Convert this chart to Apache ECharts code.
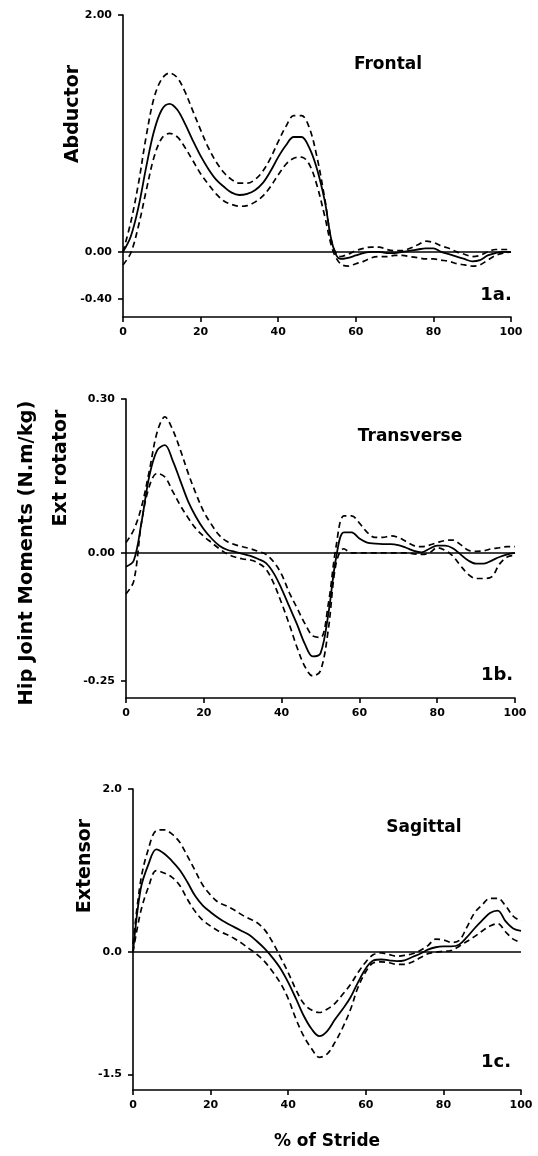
<!DOCTYPE html>
<html>
<head>
<meta charset="utf-8">
<script src="https://cdn.jsdelivr.net/npm/echarts@6/dist/echarts.min.js"></script>
<style>
html,body{margin:0;padding:0;background:#fff;}
#chart{width:538px;height:1156px;}
</style>
</head>
<body>
<div id="chart"></div>
<script>
// ---- data ----
const stride = [0,2,4,6,8,10,12,14,16,18,20,22,24,26,28,30,32,34,36,38,40,42,44,46,48,50,52,54,56,58,60,62,64,66,68,70,72,74,76,78,80,82,84,86,88,90,92,94,96,98,100];
const xTicks = [0,20,40,60,80,100];

// 1a Frontal (Abductor)
const frontalMean = [0,0.13,0.38,0.72,1.02,1.20,1.25,1.20,1.08,0.94,0.81,0.70,0.61,0.55,0.50,0.48,0.49,0.52,0.58,0.68,0.80,0.90,0.97,0.97,0.88,0.70,0.43,0.06,-0.06,-0.05,-0.03,-0.01,0.0,0.0,-0.01,-0.01,0.0,0.01,0.02,0.03,0.03,0.0,-0.02,-0.04,-0.06,-0.08,-0.07,-0.03,-0.01,0.0,0.0];
const frontalUpper = [0.0,0.25,0.58,0.98,1.30,1.46,1.51,1.47,1.35,1.19,1.03,0.88,0.76,0.67,0.61,0.58,0.58,0.61,0.68,0.79,0.93,1.06,1.15,1.15,1.05,0.80,0.45,0.06,-0.04,-0.02,0.01,0.03,0.04,0.04,0.02,0.01,0.01,0.03,0.06,0.09,0.08,0.05,0.03,0.0,-0.02,-0.04,-0.03,0.0,0.02,0.02,0.02];
const frontalLower = [-0.11,-0.01,0.22,0.52,0.80,0.96,1.00,0.97,0.88,0.77,0.66,0.57,0.49,0.43,0.40,0.385,0.39,0.42,0.47,0.55,0.65,0.74,0.79,0.80,0.74,0.56,0.30,0.02,-0.10,-0.12,-0.10,-0.08,-0.05,-0.04,-0.04,-0.03,-0.03,-0.04,-0.05,-0.06,-0.06,-0.07,-0.08,-0.10,-0.11,-0.12,-0.11,-0.07,-0.03,-0.01,0.0];
const frontalYTicks = [-0.40, 0.00, 2.00];

// 1b Transverse (Ext rotator)
const transMean = [-0.027,-0.015,0.06,0.15,0.20,0.21,0.18,0.14,0.10,0.07,0.046,0.028,0.014,0.006,0.002,-0.002,-0.006,-0.012,-0.02,-0.04,-0.07,-0.105,-0.14,-0.178,-0.202,-0.196,-0.12,-0.01,0.04,0.04,0.028,0.02,0.018,0.017,0.017,0.015,0.01,0.004,0.001,0.008,0.014,0.014,0.009,-0.003,-0.015,-0.021,-0.021,-0.015,-0.008,-0.003,0.0];
const transUpper = [0.02,0.045,0.09,0.16,0.235,0.265,0.24,0.20,0.155,0.115,0.08,0.055,0.034,0.022,0.016,0.012,0.008,0.003,-0.003,-0.018,-0.042,-0.078,-0.108,-0.138,-0.162,-0.165,-0.10,0.012,0.072,0.072,0.058,0.04,0.03,0.03,0.033,0.03,0.022,0.014,0.012,0.015,0.02,0.024,0.025,0.016,0.005,0.003,0.004,0.008,0.01,0.012,0.012];
const transLower = [-0.08,-0.055,0.06,0.13,0.155,0.148,0.12,0.092,0.068,0.047,0.032,0.02,0.008,-0.002,-0.008,-0.012,-0.014,-0.02,-0.032,-0.06,-0.098,-0.14,-0.185,-0.222,-0.24,-0.23,-0.15,-0.021,0.008,0.0,0.0,0.0,0.0,0.0,0.0,0.0,0.0,-0.002,-0.003,0.0,0.01,0.005,-0.006,-0.025,-0.042,-0.05,-0.05,-0.047,-0.022,-0.008,-0.005];
const transYTicks = [-0.25, 0.00, 0.30];

// 1c Sagittal (Extensor)
const sagMean = [0,0.78,1.08,1.26,1.21,1.12,1.01,0.86,0.69,0.57,0.49,0.42,0.36,0.31,0.26,0.21,0.13,0.04,-0.07,-0.20,-0.37,-0.57,-0.78,-0.94,-1.03,-0.97,-0.83,-0.70,-0.56,-0.37,-0.20,-0.10,-0.09,-0.10,-0.11,-0.10,-0.06,-0.02,0.03,0.06,0.07,0.07,0.09,0.18,0.29,0.39,0.48,0.51,0.38,0.29,0.26];
const sagUpper = [0.1,0.88,1.27,1.49,1.50,1.45,1.35,1.18,1.00,0.82,0.70,0.61,0.57,0.52,0.46,0.41,0.36,0.27,0.12,-0.06,-0.25,-0.46,-0.63,-0.71,-0.74,-0.70,-0.63,-0.52,-0.40,-0.25,-0.12,-0.03,-0.01,-0.03,-0.05,-0.04,-0.02,0.02,0.08,0.16,0.15,0.12,0.14,0.30,0.48,0.58,0.66,0.66,0.57,0.44,0.38];
const sagLower = [0.0,0.50,0.80,1.00,0.97,0.92,0.82,0.65,0.50,0.39,0.32,0.26,0.22,0.17,0.11,0.04,-0.03,-0.12,-0.24,-0.38,-0.57,-0.82,-1.03,-1.18,-1.29,-1.25,-1.11,-0.93,-0.71,-0.43,-0.24,-0.13,-0.12,-0.13,-0.15,-0.15,-0.12,-0.07,-0.02,0.0,0.01,0.02,0.07,0.13,0.19,0.26,0.32,0.35,0.25,0.16,0.12];
const sagYTicks = [-1.5, 0.0, 2.0];

// ---- chart ----
const FONT = 'DejaVu Sans';
const pair = (vals) => stride.map((x, i) => [x, vals[i]]);

const grids = [
  {left:123, top:15, width:388, height:302},
  {left:126, top:399, width:389, height:299},
  {left:133, top:789, width:388, height:301}
];
const yRanges = [[-0.55, 2.0], [-0.283, 0.30], [-1.69, 2.0]];
const yTickSets = [frontalYTicks, transYTicks, sagYTicks];
const yDecimals = [2, 2, 1];

const axisLineStyle = {color:'#000', width:1.6};

const xAxes = grids.map((g, i) => ({
  type:'value', gridIndex:i, min:0, max:100, interval:20,
  axisLine:{show:true, onZero:false, lineStyle:axisLineStyle},
  axisTick:{show:true, inside:false, length:5, lineStyle:axisLineStyle},
  axisLabel:{show:true, margin:10, color:'#000', fontFamily:FONT, fontWeight:'bold', fontSize:11,
    customValues: xTicks},
  splitLine:{show:false}
}));

const yAxes = grids.map((g, i) => ({
  type:'value', gridIndex:i, min:yRanges[i][0], max:yRanges[i][1],
  axisLine:{show:true, onZero:false, lineStyle:axisLineStyle},
  axisTick:{show:true, inside:false, length:5, lineStyle:axisLineStyle, customValues:yTickSets[i]},
  axisLabel:{show:true, margin:11, color:'#000', fontFamily:FONT, fontWeight:'bold', fontSize:11,
    customValues:yTickSets[i],
    formatter:(v) => {
      const s = Number(v).toFixed(yDecimals[i]);
      return s === '-0.00' || s === '-0.0' ? s.slice(1) : s;
    }},
  splitLine:{show:false}
}));

const panelData = [
  [frontalMean, frontalUpper, frontalLower],
  [transMean, transUpper, transLower],
  [sagMean, sagUpper, sagLower]
];

const series = [];
panelData.forEach((set, i) => {
  series.push({
    type:'line', xAxisIndex:i, yAxisIndex:i, data:pair(set[0]), smooth:0.35,
    showSymbol:false, lineStyle:{color:'#000', width:1.8, type:'solid'},
    markLine:{silent:true, symbol:'none', label:{show:false},
      lineStyle:{color:'#000', width:1.6, type:'solid'}, data:[{yAxis:0}]},
    z:3
  });
  [set[1], set[2]].forEach(vals => {
    series.push({
      type:'line', xAxisIndex:i, yAxisIndex:i, data:pair(vals), smooth:0.35,
      showSymbol:false, lineStyle:{color:'#000', width:1.7, type:[6,4]}, z:2
    });
  });
});

const txt = (text, x, y, size, rot) => ({
  type:'text', x:x, y:y, rotation: rot ? Math.PI/2 : 0,
  style:{text:text, fill:'#000', font:'bold ' + size + 'px "' + FONT + '"',
    textAlign:'center', textVerticalAlign:'middle'}
});

const graphics = [
  txt('Frontal', 388, 65, 17),
  txt('1a.', 496, 295, 18),
  txt('Abductor', 73, 114, 19, true),
  txt('Transverse', 410, 437, 17),
  txt('1b.', 497, 675, 18),
  txt('Ext rotator', 61, 468, 19, true),
  txt('Hip Joint Moments (N.m/kg)', 27, 553, 19.5, true),
  txt('Sagittal', 424, 828, 17),
  txt('1c.', 496, 1062, 18),
  txt('Extensor', 85, 866, 19, true),
  txt('% of Stride', 327, 1142, 17)
];

const chart = echarts.init(document.getElementById('chart'), null, {renderer:'canvas'});
chart.setOption({
  animation:false,
  backgroundColor:'#fff',
  grid:grids,
  xAxis:xAxes,
  yAxis:yAxes,
  series:series,
  graphic:graphics
});
</script>
</body>
</html>
